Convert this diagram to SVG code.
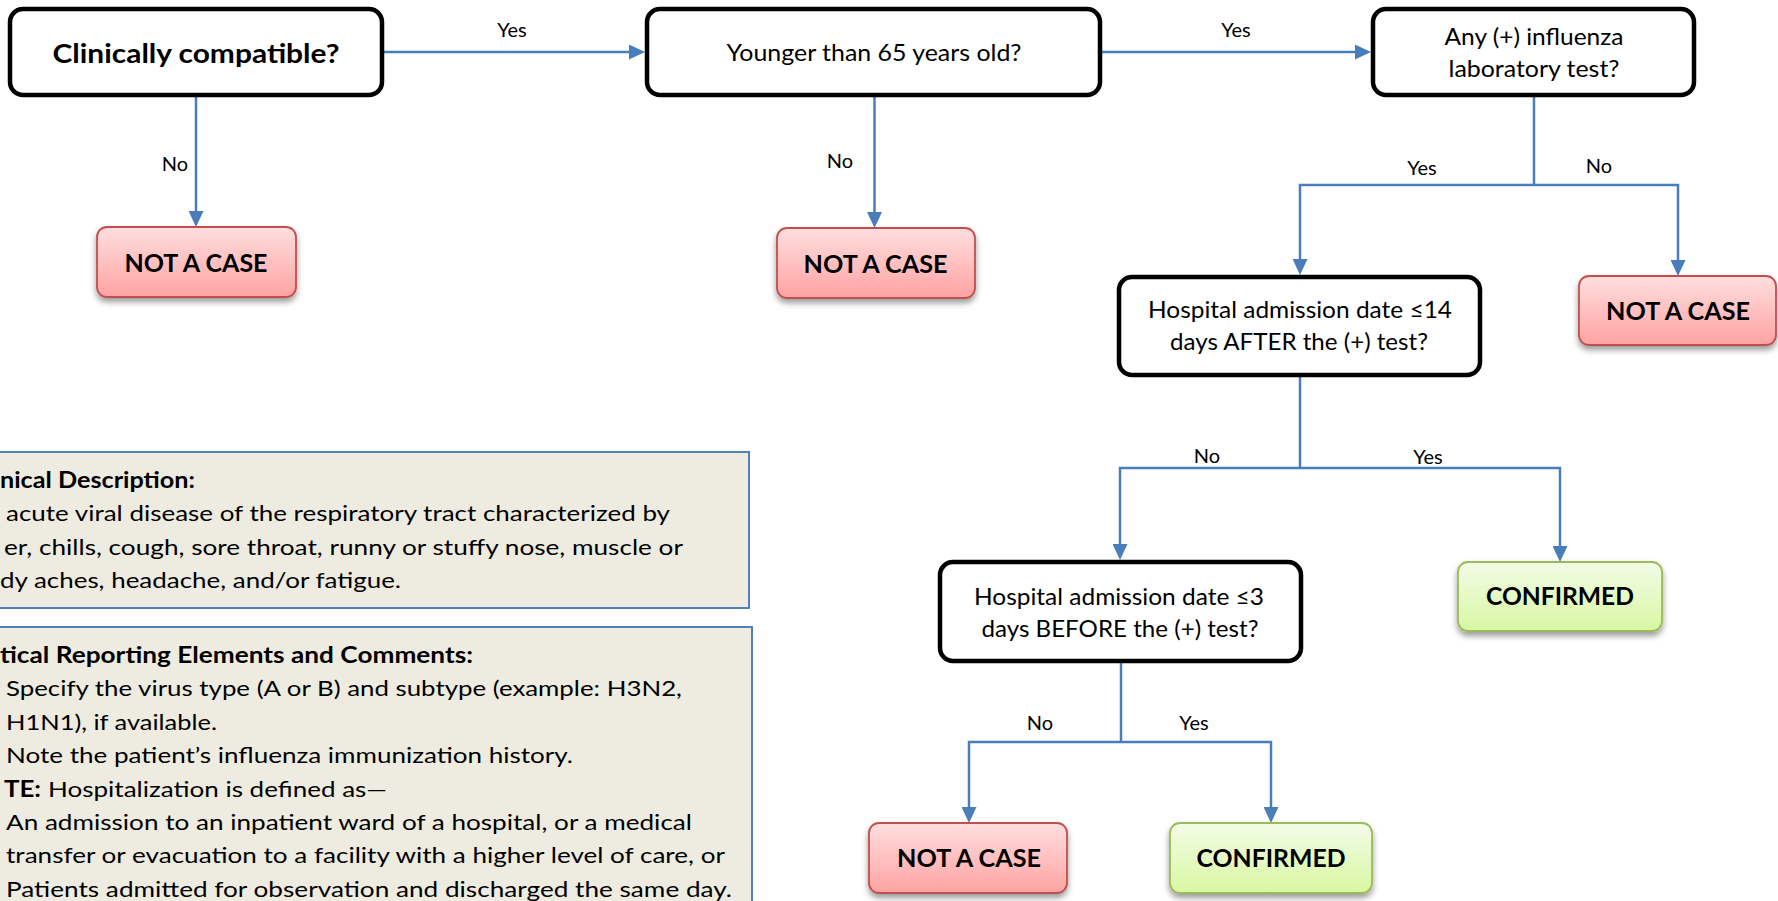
<svg xmlns="http://www.w3.org/2000/svg" width="1778" height="901" viewBox="0 0 1778 901">
<defs>
<style>
text{font-family:Lato,"Liberation Sans",Arial,sans-serif;fill:#000}
.q{fill:#fff;stroke:#000;stroke-width:4.5}
.qt{font-size:24px;text-anchor:middle}
.qb{font-size:26px;font-weight:bold;text-anchor:middle}
.nc{fill:url(#gRed);stroke:#C0504D;stroke-width:1.8;filter:url(#sh)}
.cf{fill:url(#gGreen);stroke:#9BBB59;stroke-width:1.8;filter:url(#sh)}
.rt{font-size:25px;font-weight:bold;text-anchor:middle}
.lbl{font-size:20px;text-anchor:middle}
.c{fill:none;stroke:#4A7EBB;stroke-width:2.5}
.ca{fill:none;stroke:#4A7EBB;stroke-width:2.5;marker-end:url(#ah)}
.note{fill:#EEECE1;stroke:#4F81BD;stroke-width:2}
.nt{font-size:22px}
.nb{font-size:22px;font-weight:bold}
</style>
<linearGradient id="gRed" x1="0" y1="0" x2="0" y2="1">
<stop offset="0" stop-color="#FFDEDE"/>
<stop offset="1" stop-color="#FFA3A3"/>
</linearGradient>
<linearGradient id="gGreen" x1="0" y1="0" x2="0" y2="1">
<stop offset="0" stop-color="#F3FCE8"/>
<stop offset="1" stop-color="#D8F7A2"/>
</linearGradient>
<filter id="sh" x="-10%" y="-20%" width="120%" height="150%">
<feGaussianBlur in="SourceAlpha" stdDeviation="3"/>
<feOffset dx="0" dy="4" result="b"/>
<feComponentTransfer><feFuncA type="linear" slope="0.4"/></feComponentTransfer>
<feMerge><feMergeNode/><feMergeNode in="SourceGraphic"/></feMerge>
</filter>
<marker id="ah" markerUnits="userSpaceOnUse" markerWidth="16" markerHeight="15" refX="10" refY="7.5" orient="auto">
<path d="M0,0 L16,7.5 L0,15 Z" fill="#4A7EBB"/>
</marker>
</defs>

<g id="connectors">
<line class="ca" x1="383" y1="52" x2="639" y2="52"/>
<line class="ca" x1="196" y1="97" x2="196" y2="221"/>
<line class="ca" x1="874.5" y1="97" x2="874.5" y2="222"/>
<line class="ca" x1="1102" y1="52" x2="1365" y2="52"/>
<polyline class="c" points="1534,97 1534,185"/>
<polyline class="ca" points="1534,185 1300,185 1300,269"/>
<polyline class="ca" points="1534,185 1678,185 1678,270"/>
<polyline class="c" points="1300,377 1300,468"/>
<polyline class="ca" points="1300,468 1120,468 1120,554"/>
<polyline class="ca" points="1300,468 1560,468 1560,556"/>
<polyline class="c" points="1121,663 1121,742"/>
<polyline class="ca" points="1121,742 969,742 969,817"/>
<polyline class="ca" points="1121,742 1271,742 1271,817"/>
<text class="lbl" x="512" y="37">Yes</text>
<text class="lbl" x="175" y="171">No</text>
<text class="lbl" x="840" y="168">No</text>
<text class="lbl" x="1236" y="37">Yes</text>
<text class="lbl" x="1422" y="175">Yes</text>
<text class="lbl" x="1599" y="173">No</text>
<text class="lbl" x="1207" y="463">No</text>
<text class="lbl" x="1428" y="464">Yes</text>
<text class="lbl" x="1040" y="730">No</text>
<text class="lbl" x="1194" y="730">Yes</text>
</g>

<g id="q1">
<rect class="q" x="10" y="9" width="372" height="86" rx="13"/>
<text class="qb" x="196" y="63" textLength="287" lengthAdjust="spacingAndGlyphs">Clinically compatible?</text>
</g>
<g id="q2">
<rect class="q" x="647" y="9" width="453" height="86" rx="13"/>
<text class="qt" x="874" y="61" textLength="295" lengthAdjust="spacingAndGlyphs">Younger than 65 years old?</text>
</g>
<g id="q3">
<rect class="q" x="1373" y="9" width="321" height="86" rx="13"/>
<text class="qt" x="1534" y="45" textLength="179" lengthAdjust="spacingAndGlyphs">Any (+) influenza</text>
<text class="qt" x="1534" y="77" textLength="171" lengthAdjust="spacingAndGlyphs">laboratory test?</text>
</g>
<g id="q4">
<rect class="q" x="1119" y="277" width="361" height="98" rx="13"/>
<text class="qt" x="1300" y="318" textLength="304" lengthAdjust="spacingAndGlyphs">Hospital admission date ≤14</text>
<text class="qt" x="1299" y="350" textLength="258" lengthAdjust="spacingAndGlyphs">days AFTER the (+) test?</text>
</g>
<g id="q5">
<rect class="q" x="940" y="562" width="361" height="99" rx="13"/>
<text class="qt" x="1119" y="605" textLength="290" lengthAdjust="spacingAndGlyphs">Hospital admission date ≤3</text>
<text class="qt" x="1120" y="637" textLength="277" lengthAdjust="spacingAndGlyphs">days BEFORE the (+) test?</text>
</g>

<g id="r1">
<rect class="nc" x="97" y="227" width="199" height="70" rx="10"/>
<text class="rt" x="196" y="272" textLength="143" lengthAdjust="spacingAndGlyphs">NOT A CASE</text>
</g>
<g id="r2">
<rect class="nc" x="777" y="228" width="198" height="70" rx="10"/>
<text class="rt" x="875.5" y="273" textLength="144" lengthAdjust="spacingAndGlyphs">NOT A CASE</text>
</g>
<g id="r3">
<rect class="nc" x="1579" y="276" width="197" height="69" rx="10"/>
<text class="rt" x="1678" y="320" textLength="144" lengthAdjust="spacingAndGlyphs">NOT A CASE</text>
</g>
<g id="r4">
<rect class="nc" x="869" y="823" width="198" height="70" rx="10"/>
<text class="rt" x="969" y="867" textLength="144" lengthAdjust="spacingAndGlyphs">NOT A CASE</text>
</g>
<g id="c1">
<rect class="cf" x="1458" y="562" width="204" height="69" rx="10"/>
<text class="rt" x="1560" y="605" textLength="148" lengthAdjust="spacingAndGlyphs">CONFIRMED</text>
</g>
<g id="c2">
<rect class="cf" x="1170" y="823" width="202" height="70" rx="10"/>
<text class="rt" x="1271" y="867" textLength="149" lengthAdjust="spacingAndGlyphs">CONFIRMED</text>
</g>

<g id="clinical-description">
<rect class="note" x="-10" y="452" width="759" height="156"/>
<text class="nb" x="0" y="488" textLength="195" lengthAdjust="spacingAndGlyphs">nical Description:</text>
<text class="nt" x="6" y="521" textLength="664" lengthAdjust="spacingAndGlyphs">acute viral disease of the respiratory tract characterized by</text>
<text class="nt" x="4" y="555" textLength="679" lengthAdjust="spacingAndGlyphs">er, chills, cough, sore throat, runny or stuffy nose, muscle or</text>
<text class="nt" x="0" y="588" textLength="401" lengthAdjust="spacingAndGlyphs">dy aches, headache, and/or fatigue.</text>
</g>

<g id="reporting-elements">
<rect class="note" x="-10" y="627" width="762" height="300"/>
<text class="nb" x="0" y="663" textLength="473" lengthAdjust="spacingAndGlyphs">tical Reporting Elements and Comments:</text>
<text class="nt" x="6" y="696" textLength="676" lengthAdjust="spacingAndGlyphs">Specify the virus type (A or B) and subtype (example: H3N2,</text>
<text class="nt" x="6" y="730" textLength="211" lengthAdjust="spacingAndGlyphs">H1N1), if available.</text>
<text class="nt" x="6" y="763" textLength="567" lengthAdjust="spacingAndGlyphs">Note the patient’s influenza immunization history.</text>
<text class="nb" x="4" y="797" textLength="37" lengthAdjust="spacingAndGlyphs">TE:</text>
<text class="nt" x="48" y="797" textLength="339" lengthAdjust="spacingAndGlyphs">Hospitalization is defined as—</text>
<text class="nt" x="6" y="830" textLength="686" lengthAdjust="spacingAndGlyphs">An admission to an inpatient ward of a hospital, or a medical</text>
<text class="nt" x="6" y="863" textLength="719" lengthAdjust="spacingAndGlyphs">transfer or evacuation to a facility with a higher level of care, or</text>
<text class="nt" x="6" y="897" textLength="726" lengthAdjust="spacingAndGlyphs">Patients admitted for observation and discharged the same day.</text>
</g>
</svg>
